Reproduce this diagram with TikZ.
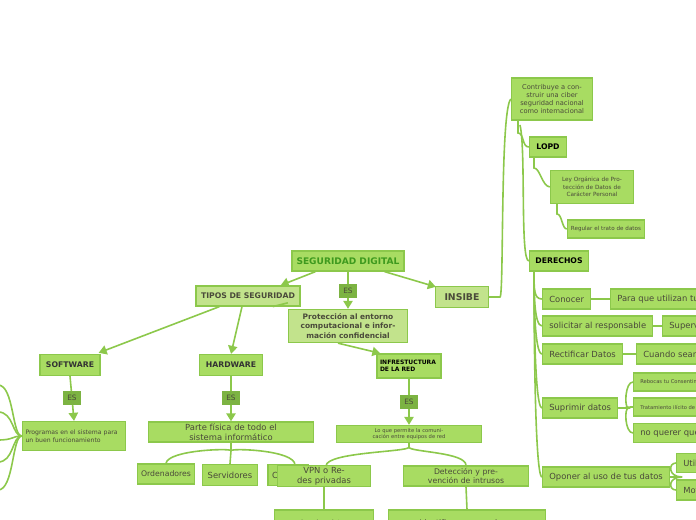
\documentclass[tikz,border=0pt]{standalone}
\usepackage{fontspec}
\setmainfont{DejaVu Sans}
\usetikzlibrary{arrows.meta,calc}
\definecolor{bfill}{HTML}{A8DC62}
\definecolor{lfill}{HTML}{C2E38C}
\definecolor{bdr}{HTML}{8CC84B}
\definecolor{esf}{HTML}{7CB342}
\definecolor{dgreen}{HTML}{3E9A1E}
\definecolor{tgray}{HTML}{4A4A3A}
\tikzset{
 bx/.style={draw=bdr,line width=1pt,fill=bfill,text=tgray,inner sep=1pt,font=\fontsize{6.3}{7.5}\selectfont,align=center},
 lbx/.style={bx,fill=lfill},
 esbox/.style={fill=esf,text=tgray,inner sep=2pt,minimum width=13pt,minimum height=10pt,font=\fontsize{5.5}{6}\selectfont},
 con/.style={draw=bdr,line width=1.2pt},
 arr/.style={con,-{Triangle[length=6pt,width=7pt]}},
}
\newcommand{\mybox}[7]{\node[#6,minimum width={#4*0.75pt},minimum height={#5*0.75pt},text width={(#4-6)*0.75pt}] (#1) at (#2,#3) {#7};}
\newcommand{\myrbox}[5]{\node[bx,minimum height={#4*0.75pt},anchor=west,inner xsep=5pt] (#1) at (#2,#3) {#5};}
\begin{document}
\begin{tikzpicture}[x=0.75pt,y=-0.75pt]
\useasboundingbox (0,0) rectangle (696,520);
\clip (0,0) rectangle (696,520);
\mybox{sd}{348}{261}{112}{20}{bx,text=dgreen,font=\bfseries\fontsize{6.8}{8}\selectfont}{SEGURIDAD DIGITAL}
\mybox{tipos}{248}{296}{104}{20}{lbx,font=\bfseries\fontsize{5.8}{7}\selectfont}{TIPOS DE SEGURIDAD}
\mybox{prot}{348}{326}{119}{33}{lbx,font=\bfseries\fontsize{5.6}{7}\selectfont}{Protección al entorno computacional e información confidencial}
\mybox{insibe}{462}{297}{53}{21}{lbx,font=\bfseries\fontsize{7}{8}\selectfont}{INSIBE}
\node[esbox] (es0) at (348,291) {ES};
\draw[arr] ($(sd.south west)+(24,0)$) -- ($(tipos.north east)+(-20,0)$);
\draw[arr] (sd.south) -- (es0) -- (prot.north);
\draw[arr] ($(sd.south east)+(-20,0)$) -- ($(insibe.north west)+(1,1)$);
\mybox{soft}{70}{365}{60}{21}{bx,text=black!80,font=\bfseries\fontsize{5.8}{7}\selectfont}{SOFTWARE}
\node[esbox] (es1) at (72,398) {ES};
\mybox{prog}{74}{436}{103}{29}{bx,align=left,font=\fontsize{4.6}{6}\selectfont}{Programas en el sistema para un buen funcionamiento}
\draw[arr] ($(tipos.south west)+(24,0)$) -- ($(soft.north east)+(-2,-1)$);
\draw[arr] (soft.south) -- (es1) -- (prog.north);
\foreach \yy in {385,412,440,462,490}{\draw[con] (prog.west) .. controls (12,436) and (14,\yy) .. (-2,\yy);}
\mybox{hard}{231}{365}{63}{21}{bx,text=black!80,font=\bfseries\fontsize{5.8}{7}\selectfont}{HARDWARE}
\node[esbox] (es2) at (231,398) {ES};
\mybox{parte}{231}{432}{165}{20}{bx}{Parte física de todo el sistema informático}
\draw[arr] ($(tipos.south)+(-6,0)$) -- (hard.north);
\draw[arr] (hard.south) -- (es2) -- (parte.north);
\draw[con] ($(tipos.south east)+(-28,0)$) -- ($(prot.north west)+(0,-6)$);
\mybox{ord}{166}{474}{57}{20}{bx,font=\fontsize{5.8}{7}\selectfont}{Ordenadores}
\mybox{serv}{230}{475}{55}{21}{bx}{Servidores}
\node[bx,minimum width=30pt,minimum height=15.75pt,align=left,text width=24pt] (cx) at (288,475) {C};
\draw[con] (parte.south) -- ++(0,8) coordinate (pj);
\draw[con] (pj) .. controls (231,448) and (168,450) .. (ord.north);
\draw[con] (pj) -- (serv.north);
\draw[con] (pj) .. controls (231,448) and (295,450) .. (295,465);
\mybox{infra}{409}{366}{64}{24}{bx,text=black,align=left,font=\bfseries\fontsize{4.5}{5.5}\selectfont}{INFRESTUCTURA\\DE LA RED}
\draw[arr] ($(prot.south)+(-10,0)$) -- ($(infra.north west)+(4,0)$);
\node[esbox] (es3) at (409,402) {ES};
\mybox{lo}{409}{434}{145}{17}{bx,font=\fontsize{3.9}{5}\selectfont}{Lo que permite la comunicación entre equipos de red}
\draw[arr] (infra.south) -- (es3) -- (lo.north);
\mybox{vpn}{324}{476}{93}{20}{bx}{VPN o Redes privadas}
\mybox{det}{466}{476}{125}{20}{bx,font=\fontsize{5.8}{7}\selectfont}{Detección y prevención de intrusos}
\draw[con] (lo.south) -- ++(0,4) coordinate (lj);
\draw[con] (lj) .. controls (409,452) and (326,452) .. (326,466);
\draw[con] (lj) .. controls (409,452) and (466,452) .. (det.north);
\mybox{acc}{324}{527}{99}{34}{bx,font=\fontsize{4.5}{6}\selectfont}{Acceder a internet con seguridad}
\mybox{ide}{467}{527}{157}{34}{bx,font=\fontsize{5.8}{7}\selectfont}{Identificar y prevenir accesos no autorizados}
\draw[con] (vpn.south) -- (acc.north);
\draw[con] (det.south) -- (ide.north);
\mybox{contr}{552}{99}{81}{42}{bx,font=\fontsize{5}{6.2}\selectfont}{Contribuye a construir una ciber seguridad nacional como internacional}
\mybox{lopd}{548}{147}{37}{20}{bx,text=black,font=\bfseries\fontsize{5.8}{7}\selectfont}{LOPD}
\mybox{ley}{592}{187}{83}{33}{bx,font=\fontsize{4.3}{5.5}\selectfont}{Ley Orgánica de Protección de Datos de Carácter Personal}
\mybox{reg}{606}{229}{77}{18}{bx,font=\fontsize{4.2}{5}\selectfont}{Regular el trato de datos}
\mybox{der}{559}{261}{59}{20}{bx,text=black,font=\bfseries\fontsize{5.8}{7}\selectfont}{DERECHOS}
\draw[con] (insibe.east) -- (500,297) .. controls (504,297) and (500,110) .. (contr.west);
\draw[con] (518,120) -- (518,133) .. controls (524,133) and (522,147) .. (lopd.west);
\draw[con] (520,125) .. controls (526,150) and (520,261) .. (der.west);
\draw[con] (534,157) -- (534,168) .. controls (540,168) and (542,186) .. (ley.west);
\draw[con] (557,204) -- (557,214) .. controls (562,214) and (562,229) .. (reg.west);
\myrbox{con1}{542}{299}{20}{Conocer}
\myrbox{con2}{610}{299}{20}{Para que utilizan tus datos}
\myrbox{sol1}{542}{326}{20}{solicitar al responsable}
\myrbox{sol2}{662}{326}{20}{Supervisar su tratamiento}
\myrbox{rec1}{542}{354}{20}{Rectificar Datos}
\myrbox{rec2}{636}{354}{20}{Cuando sean inexactos}
\myrbox{sup1}{542}{408}{20}{Suprimir datos}
\node[bx,minimum height=13.5pt,anchor=west,inner xsep=5pt,font=\fontsize{3.9}{5}\selectfont] (s1) at (633,382) {Rebocas tu Consentimiento};
\node[bx,minimum height=13.5pt,anchor=west,inner xsep=5pt,font=\fontsize{3.9}{5}\selectfont] (s2) at (633,407) {Tratamiento ilícito de datos};
\myrbox{s3}{633}{433}{19}{no querer que los tengan}
\myrbox{op1}{542}{477}{20}{Oponer al uso de tus datos}
\myrbox{o1}{676}{463}{19}{Utilizar}
\myrbox{o2}{676}{490}{20}{Motivos}
\draw[con] (con1) -- (con2);
\draw[con] (sol1) -- (sol2);
\draw[con] (rec1) -- (rec2);
\foreach \nn in {con1,sol1,rec1,sup1,op1}{\draw[con] (534,271) .. controls (534,290) and ([xshift=-6pt]\nn.west) .. (\nn.west);}
\foreach \nn in {s1,s2,s3}{\draw[con] (sup1.east) -- ++(10,0) .. controls (624,408) and ([xshift=-6pt]\nn.west) .. (\nn.west);}
\foreach \nn in {o1,o2}{\draw[con] (op1.east) -- ++(12,0) .. controls (668,477) and ([xshift=-6pt]\nn.west) .. (\nn.west);}
\end{tikzpicture}
\end{document}
